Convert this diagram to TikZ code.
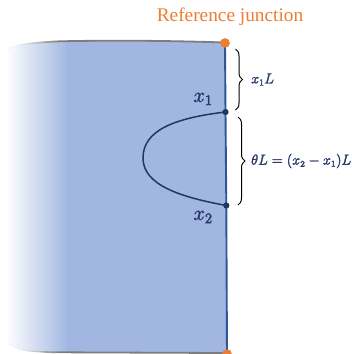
\documentclass[tikz,border=0pt]{standalone}
\usepackage{fontspec}
\setmainfont{Liberation Serif}
\usetikzlibrary{decorations.pathreplacing}
\definecolor{fillblue}{RGB}{161,183,225}
\definecolor{edgeblue}{RGB}{47,85,151}
\definecolor{navy}{RGB}{31,56,100}
\definecolor{orng}{RGB}{237,125,49}
\definecolor{txtnavy}{RGB}{40,58,105}
\definecolor{rimgray}{RGB}{125,125,125}
\newcommand{\fakebold}[2]{\special{pdf:literal direct 2 Tr #1 w}#2\special{pdf:literal direct 0 Tr}}
\tikzset{
  odot/.style={circle, fill=orng, inner sep=0pt, minimum size=9.4pt},
  ndot/.style={circle, fill=navy, inner sep=0pt, minimum size=6pt},
  bracestyle/.style={decorate, decoration={brace, amplitude=7pt}, line width=1.0pt, black},
  biglabel/.style={text=txtnavy, font=\fontsize{22}{24}\selectfont, inner sep=0pt},
  smalllabel/.style={text=txtnavy, font=\fontsize{13.5}{15}\selectfont, inner sep=0pt, anchor=west},
  edgeline/.style={edgeblue, line width=1.9pt},
  crack/.style={navy, line width=1.5pt},
  rim/.style={rimgray, line width=1.8pt}
}
\newcommand{\bodyoutline}{(8,52) .. controls (8,48) and (10,47) .. (12,46.5) .. controls (25,43.5) and (40,42) .. (60,41.3) .. controls (120,40) and (180,41) .. (225,42.5) -- (226.5,353) -- (60,352.3) .. controls (35,352) and (15,350) .. (8,343) -- cycle}
\begin{document}
\begin{tikzpicture}[x=1pt,y=-1pt]
\useasboundingbox (0,0) rectangle (352,354);
\clip (0,0) rectangle (352,354);
% body fill with fading left edge
\fill[fillblue] \bodyoutline;
\begin{scope}
  \clip \bodyoutline;
  \shade[left color=white, right color=fillblue] (6,30) rectangle (68,354);
\end{scope}
% top rim
\shade[left color=white, right color=rimgray] (12,46.3) .. controls (25,43.0) and (40,41.2) .. (60,40.4) -- (60,42.2) .. controls (40,43) and (25,44.4) .. (12,46.7) -- cycle;
\draw[rim] (60,41.3) .. controls (120,40) and (180,41) .. (225,42.5);
% bottom rim
\shade[left color=white, right color=rimgray] (15,348.8) .. controls (30,351) and (45,351.3) .. (60,351.4) -- (60,353.2) .. controls (45,353) and (30,352.2) .. (15,349.4) -- cycle;
\draw[rim] (60,352.3) -- (226,353);
% points
\node[odot] (ref) at (225,43) {};
\node[ndot] (p1) at (225.5,112) {};
\node[ndot] (p2) at (226.3,205.5) {};
\node[odot] (bot) at (227,354) {};
% right edge
\draw[edgeline] (ref.center) -- (p1.center) -- (p2.center) -- (bot.center);
\node[odot] at (ref) {};
\node[odot] at (bot) {};
\node[ndot] at (p1) {};
\node[ndot] at (p2) {};
% crack
\draw[crack] (p1.center) .. controls (175,118) and (143,130) .. (143,158) .. controls (143,185) and (180,197) .. (p2.center);
% title
\node[text=orng, font=\fontsize{19.3}{22}\selectfont, inner sep=0pt] (title) at (230,17) {Reference junction};
% point labels
\node[biglabel] (lx1) at (203,99) {\fakebold{0.45}{$x_1$}};
\node[biglabel] (lx2) at (203,217) {\fakebold{0.45}{$x_2$}};
% braces
\coordinate (b1t) at (235.5,49);
\coordinate (b1b) at (235.5,110);
\coordinate (b2t) at (238,117);
\coordinate (b2b) at (238,205);
\draw[bracestyle] (b1t) -- (b1b);
\draw[bracestyle] (b2t) -- (b2b);
\node[smalllabel] (l1) at (251,79.5) {\fakebold{0.3}{$x_1L$}};
\node[smalllabel] (l2) at (251,161) {\fakebold{0.3}{$\theta L=(x_2-x_1)L$}};
\end{tikzpicture}
\end{document}
